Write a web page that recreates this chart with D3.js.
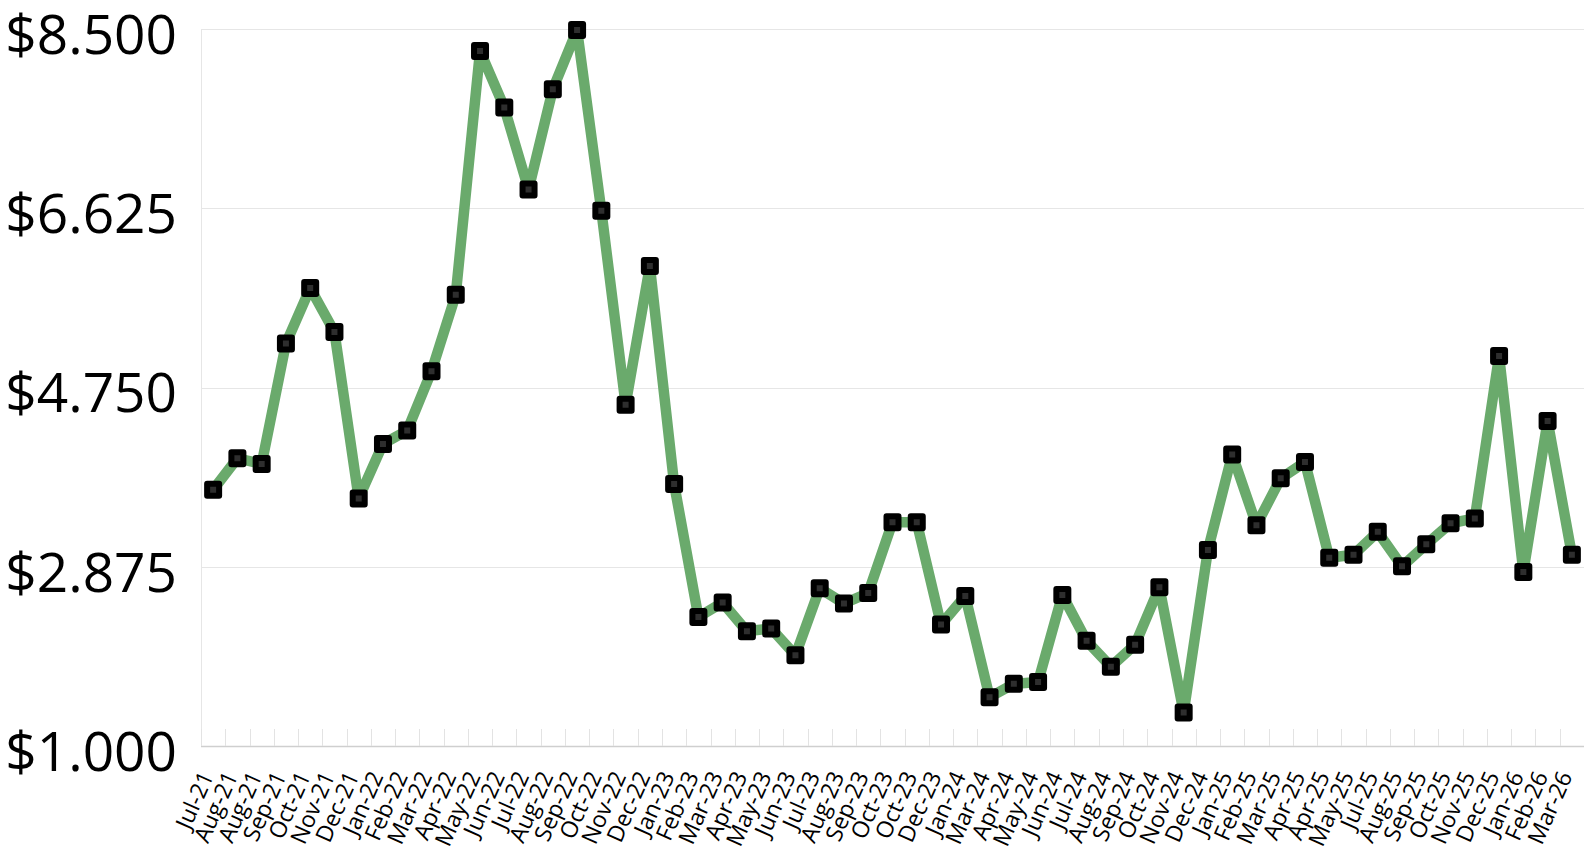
<!DOCTYPE html>
<html>
<head>
<meta charset="utf-8">
<script src="https://cdn.jsdelivr.net/npm/d3@7"></script>
<style>
  body { margin: 0; background: #fff; }
  svg { display: block; }
</style>
</head>
<body>
<div id="chart"></div>
<script>
var labels = ["Jul-21","Aug-21","Aug-21","Sep-21","Oct-21","Nov-21","Dec-21","Jan-22","Feb-22","Mar-22",
  "Apr-22","May-22","Jun-22","Jul-22","Aug-22","Sep-22","Oct-22","Nov-22","Dec-22","Jan-23",
  "Feb-23","Mar-23","Apr-23","May-23","Jun-23","Jul-23","Aug-23","Sep-23","Oct-23","Oct-23",
  "Dec-23","Jan-24","Mar-24","Apr-24","May-24","Jun-24","Jul-24","Aug-24","Sep-24","Oct-24",
  "Nov-24","Dec-24","Jan-25","Feb-25","Mar-25","Apr-25","Apr-25","May-25","Jul-25","Aug-25",
  "Sep-25","Oct-25","Nov-25","Dec-25","Jan-26","Feb-26","Mar-26"];

var prices = [3.68,4.01,3.95,5.21,5.79,5.33,3.59,4.16,4.30,4.92,
  5.72,8.27,7.68,6.82,7.87,8.49,6.60,4.57,6.02,3.74,
  2.35,2.50,2.20,2.23,1.95,2.65,2.49,2.60,3.34,3.34,
  2.27,2.57,1.51,1.65,1.67,2.58,2.10,1.83,2.06,2.66,
  1.35,3.05,4.05,3.31,3.80,3.97,2.97,3.00,3.24,2.88,
  3.11,3.33,3.38,5.08,2.82,4.40,3.00];

var yTicks = [1, 2.875, 4.75, 6.625, 8.5];

var width = 1584, height = 851;
var plotLeft = 201, plotRight = 1584, plotTop = 29, plotBottom = 746;

var svg = d3.select("#chart").append("svg")
  .attr("width", width)
  .attr("height", height);

var x = d3.scaleBand()
  .domain(d3.range(labels.length))
  .range([plotLeft, plotRight])
  .padding(0);

var y = d3.scaleLinear()
  .domain([1, 8.5])
  .range([plotBottom, plotTop]);

// horizontal gridlines
svg.append("g")
  .selectAll("line")
  .data(yTicks)
  .enter().append("line")
  .attr("x1", plotLeft)
  .attr("x2", plotRight)
  .attr("y1", function (d) { return Math.round(y(d)) + 0.5; })
  .attr("y2", function (d) { return Math.round(y(d)) + 0.5; })
  .attr("stroke", function (d) { return d === 1 ? "#cfcfcf" : "#e6e6e6"; })
  .attr("stroke-width", function (d) { return d === 1 ? 1.5 : 1; });

// left edge
svg.append("line")
  .attr("x1", plotLeft + 0.5).attr("x2", plotLeft + 0.5)
  .attr("y1", plotTop).attr("y2", plotBottom)
  .attr("stroke", "#e6e6e6");

// small tick marks at band boundaries
svg.append("g")
  .selectAll("line")
  .data(d3.range(labels.length + 1))
  .enter().append("line")
  .attr("x1", function (i) { return Math.round(plotLeft + i * x.bandwidth()) + 0.5; })
  .attr("x2", function (i) { return Math.round(plotLeft + i * x.bandwidth()) + 0.5; })
  .attr("y1", plotBottom - 17)
  .attr("y2", plotBottom)
  .attr("stroke", "#e3e3e3");

// y labels
svg.append("g")
  .selectAll("text")
  .data(yTicks)
  .enter().append("text")
  .attr("x", 177)
  .attr("y", function (d) { return y(d) + 5; })
  .attr("dy", "0.36em")
  .attr("text-anchor", "end")
  .attr("font-family", "'Open Sans', sans-serif")
  .attr("font-size", "55px")
  .attr("fill", "#000")
  .text(function (d) { return "$" + d.toFixed(3); });

// x labels
svg.append("g")
  .selectAll("text")
  .data(labels)
  .enter().append("text")
  .attr("transform", function (d, i) {
    return "translate(" + (x(i) + x.bandwidth() / 2 + 1) + "," + (plotBottom + 30) + ")rotate(-66)";
  })
  .attr("text-anchor", "end")
  .attr("font-family", "'Open Sans', sans-serif")
  .attr("font-size", "23px")
  .attr("fill", "#000")
  .text(function (d) { return d; });

var line = d3.line()
  .x(function (d, i) { return x(i) + x.bandwidth() / 2; })
  .y(function (d) { return y(d); });

svg.append("path")
  .datum(prices)
  .attr("d", line)
  .attr("fill", "none")
  .attr("stroke", "#6aaa6c")
  .attr("stroke-width", 10.5)
  .attr("stroke-linejoin", "round");

svg.append("g")
  .selectAll("rect")
  .data(prices)
  .enter().append("rect")
  .attr("x", function (d, i) { return x(i) + x.bandwidth() / 2 - 6; })
  .attr("y", function (d) { return y(d) - 6; })
  .attr("width", 12)
  .attr("height", 12)
  .attr("fill", "#2e2e2e")
  .attr("stroke", "#000")
  .attr("stroke-width", 6)
  .attr("stroke-linejoin", "round");
</script>
</body>
</html>
